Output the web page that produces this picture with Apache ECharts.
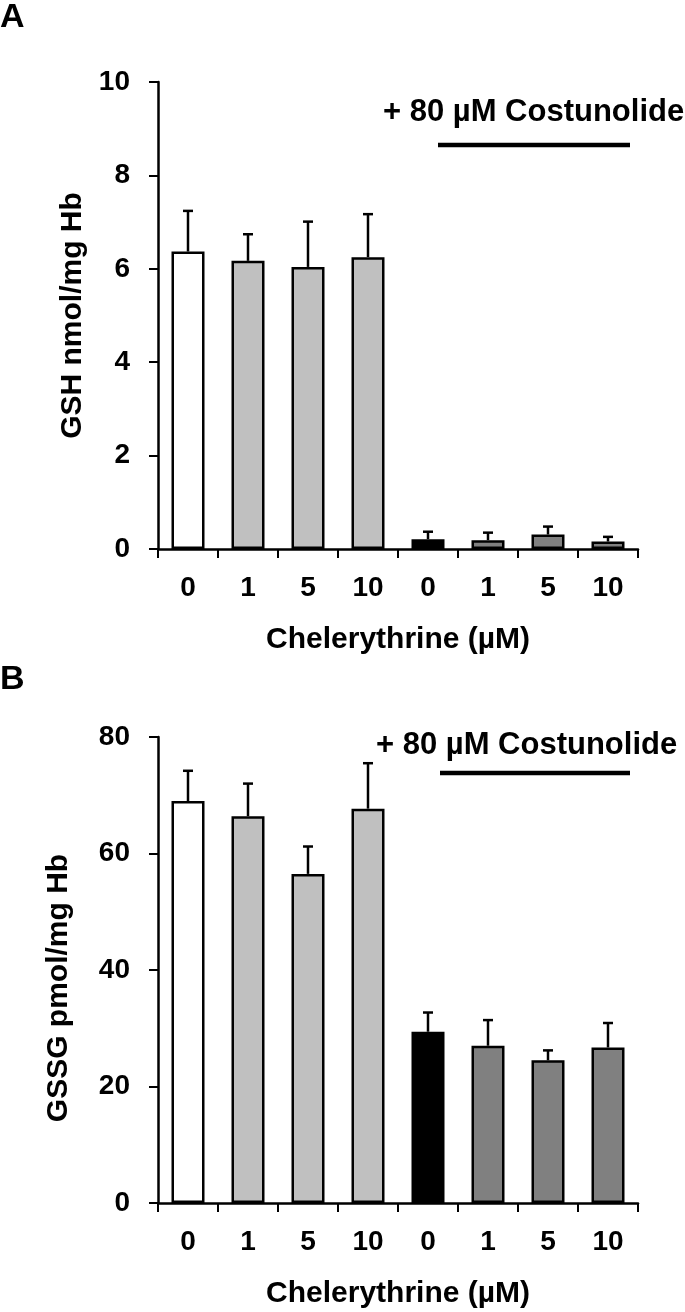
<!DOCTYPE html>
<html>
<head>
<meta charset="utf-8">
<script src="https://cdn.jsdelivr.net/npm/echarts@6/dist/echarts.min.js"></script>
<style>
html,body{margin:0;padding:0;background:#fff;}
#c{width:685px;height:1312px;}
</style>
</head>
<body>
<div id="c"></div>
<script>
const categories = ['0', '1', '5', '10', '0', '1', '5', '10'];
const gshMean = [6.37, 6.17, 6.04, 6.25, 0.21, 0.19, 0.31, 0.16];
const gshSD = [0.87, 0.57, 0.97, 0.92, 0.16, 0.16, 0.17, 0.10];
const gssgMean = [69.0, 66.4, 56.5, 67.7, 29.4, 27.0, 24.5, 26.7];
const gssgSD = [5.2, 5.6, 4.7, 7.8, 3.3, 4.4, 1.7, 4.2];
const barColors = ['#ffffff', '#c0c0c0', '#c0c0c0', '#c0c0c0', '#000000', '#808080', '#808080', '#808080'];
const gshTicks = { min: 0, max: 10, interval: 2 };
const gssgTicks = { min: 0, max: 80, interval: 20 };
const xTitle = 'Chelerythrine (µM)';
const yTitleA = 'GSH nmol/mg Hb';
const yTitleB = 'GSSG pmol/mg Hb';
const annot = '+ 80 µM Costunolide';

const FONT = '"Liberation Sans", Arial, sans-serif';
const chart = echarts.init(document.getElementById('c'), null, { renderer: 'canvas' });

function xAxisDef(gridIndex) {
  return {
    type: 'category', gridIndex, data: categories,
    axisLine: { lineStyle: { color: '#000', width: 2.5 } },
    axisTick: { show: true, length: 9, lineStyle: { color: '#000', width: 2 } },
    axisLabel: { color: '#000', fontSize: 28, fontWeight: 'bold', fontFamily: FONT, margin: 25 },
    name: xTitle, nameLocation: 'middle', nameGap: 76,
    nameTextStyle: { color: '#000', fontSize: 30, fontWeight: 'bold', fontFamily: FONT }
  };
}
function yAxisDef(gridIndex, t, name, gap, pad) {
  return {
    type: 'value', gridIndex, min: t.min, max: t.max, interval: t.interval,
    splitLine: { show: false },
    axisLine: { show: true, lineStyle: { color: '#000', width: 2.5 } },
    axisTick: { show: true, length: 9, lineStyle: { color: '#000', width: 2 } },
    axisLabel: { color: '#000', fontSize: 28, fontWeight: 'bold', fontFamily: FONT, margin: 28 },
    name, nameLocation: 'middle', nameGap: gap,
    nameTextStyle: { color: '#000', fontSize: 30, fontWeight: 'bold', fontFamily: FONT, padding: pad }
  };
}
function barSeries(idx, means) {
  return {
    type: 'bar', xAxisIndex: idx, yAxisIndex: idx, barWidth: 33,
    data: means.map((v, i) => ({ value: v, itemStyle: { color: barColors[i] } })),
    itemStyle: { borderColor: '#000', borderWidth: 2.5 },
    silent: true, z: 2
  };
}
function errSeries(idx, means, sds) {
  return {
    type: 'custom', xAxisIndex: idx, yAxisIndex: idx, z: 1, silent: true,
    data: means.map((v, i) => [i, v, v + sds[i]]),
    renderItem: function (params, api) {
      const base = api.coord([api.value(0), api.value(1)]);
      const top = api.coord([api.value(0), api.value(2)]);
      const half = 5;
      return {
        type: 'group',
        children: [
          { type: 'line', shape: { x1: base[0], y1: base[1], x2: top[0], y2: top[1] }, style: { stroke: '#000', lineWidth: 2.5 } },
          { type: 'line', shape: { x1: top[0] - half, y1: top[1], x2: top[0] + half, y2: top[1] }, style: { stroke: '#000', lineWidth: 2.5 } }
        ]
      };
    }
  };
}

const option = {
  backgroundColor: '#fff',
  animation: false,
  grid: [
    { left: 158, width: 480, top: 82, height: 467 },
    { left: 158, width: 480, top: 737, height: 466 }
  ],
  xAxis: [xAxisDef(0), xAxisDef(1)],
  yAxis: [yAxisDef(0, gshTicks, yTitleA, 68, 0), yAxisDef(1, gssgTicks, yTitleB, 84, [0, 36, 0, 0])],
  series: [
    barSeries(0, gshMean), errSeries(0, gshMean, gshSD),
    barSeries(1, gssgMean), errSeries(1, gssgMean, gssgSD)
  ],
  graphic: [
    { type: 'text', left: 0, top: 1, style: { text: 'A', fontSize: 34, fontWeight: 'bold', fontFamily: FONT, fill: '#000' } },
    { type: 'text', left: 0, top: 663, style: { text: 'B', fontSize: 34, fontWeight: 'bold', fontFamily: FONT, fill: '#000' } },
    { type: 'text', x: 383, y: 112, style: { text: annot, fontSize: 31, fontWeight: 'bold', fontFamily: FONT, fill: '#000', textVerticalAlign: 'middle' } },
    { type: 'line', shape: { x1: 438, y1: 145, x2: 630, y2: 145 }, style: { stroke: '#000', lineWidth: 4.5 } },
    { type: 'text', x: 376, y: 745, style: { text: annot, fontSize: 31, fontWeight: 'bold', fontFamily: FONT, fill: '#000', textVerticalAlign: 'middle' } },
    { type: 'line', shape: { x1: 440, y1: 773, x2: 630, y2: 773 }, style: { stroke: '#000', lineWidth: 4.5 } }
  ]
};
chart.setOption(option);
</script>
</body>
</html>
